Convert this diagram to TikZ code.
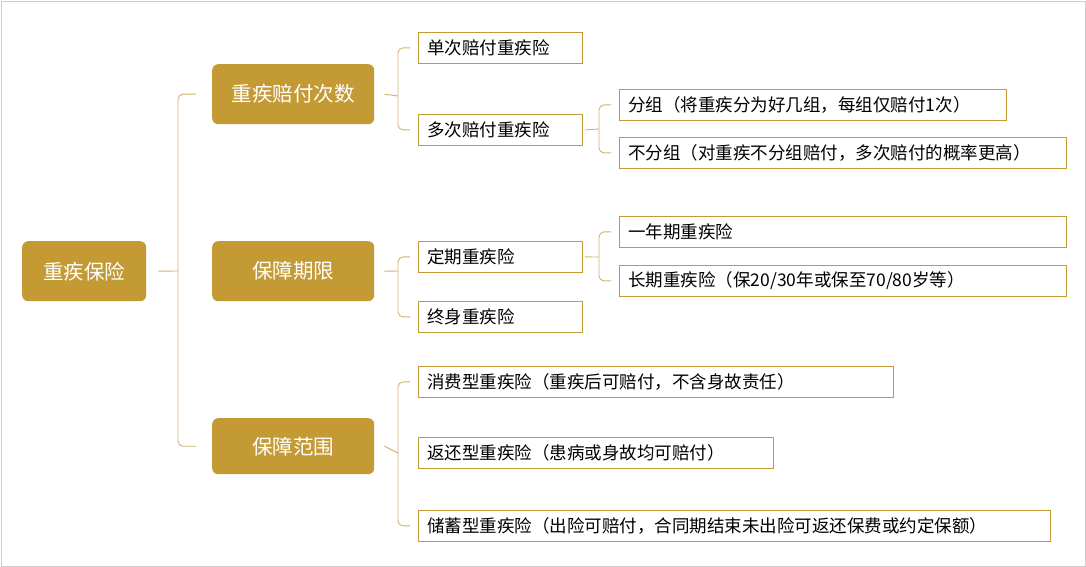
\documentclass[tikz,border=0pt]{standalone}
\usepackage{fontspec}
\setmainfont{Noto Sans CJK SC}
\begin{document}
\begin{tikzpicture}[x=1pt,y=-1pt,
  main/.style={fill=gold,rounded corners=6,text=white,font=\fontsize{20.5}{23}\selectfont,minimum height=60,anchor=north west,inner sep=0},
  leaf/.style={draw=gold,fill=white,line width=0.8,font=\fontsize{17.5}{20}\selectfont,anchor=north west,minimum height=31,inner xsep=9,inner ysep=0},
  br/.style={draw=lgold,line width=0.9,rounded corners=5}]
\definecolor{gold}{HTML}{C49A35}
\definecolor{lgold}{HTML}{D2B26C}
\useasboundingbox (0,0) rectangle (1086,567);
\draw[gray!40] (1,1) rectangle (1085,566);
\node[main,minimum width=124] (root) at (22,241) {重疾保险};
\node[main,minimum width=162] (a) at (212,64) {重疾赔付次数};
\node[main,minimum width=162] (b) at (212,241) {保障期限};
\node[main,minimum width=162,minimum height=56] (c) at (212,418) {保障范围};
\node[leaf,text width=146] (a1) at (418,32) {单次赔付重疾险};
\node[leaf,text width=146] (a2) at (418,114) {多次赔付重疾险};
\node[leaf,text width=369] (a21) at (619,89) {分组（将重疾分为好几组，每组仅赔付1次）};
\node[leaf,text width=429] (a22) at (619,137) {不分组（对重疾不分组赔付，多次赔付的概率更高）};
\node[leaf,text width=146] (b1) at (418,241) {定期重疾险};
\node[leaf,text width=146] (b2) at (418,301) {终身重疾险};
\node[leaf,text width=429] (b11) at (619,216) {一年期重疾险};
\node[leaf,text width=429] (b12) at (619,265) {长期重疾险（保20/30年或保至70/80岁等）};
\node[leaf,text width=457] (c1) at (418,366) {消费型重疾险（重疾后可赔付，不含身故责任）};
\node[leaf,text width=337] (c2) at (418,437) {返还型重疾险（患病或身故均可赔付）};
\node[leaf,text width=614] (c3) at (418,510) {储蓄型重疾险（出险可赔付，合同期结束未出险可返还保费或约定保额）};
% brackets
\draw[br] ([xshift=-16]a.west) -| (178,271) |- ([xshift=-16]c.west);
\draw[br] ([xshift=12]root.east) -- (178,271);
\draw[br] ([xshift=-8]a1.west) -| (398,96) |- ([xshift=-8]a2.west);
\draw[br] ([xshift=10]a.east) -- (398,96);
\draw[br] ([xshift=-8]a21.west) -| (599,129) |- ([xshift=-8]a22.west);
\draw[br] ([xshift=2]a2.east) -- (599,129);
\draw[br] ([xshift=-8]b1.west) -| (398,271) |- ([xshift=-8]b2.west);
\draw[br] ([xshift=10]b.east) -- (398,271);
\draw[br] ([xshift=-8]b11.west) -| (599,257) |- ([xshift=-8]b12.west);
\draw[br] ([xshift=2]b1.east) -- (599,257);
\draw[br] ([xshift=-8]c1.west) -| (398,453) |- ([xshift=-8]c3.west);
\draw[br] ([xshift=10]c.east) -- (398,453);
\end{tikzpicture}
\end{document}
